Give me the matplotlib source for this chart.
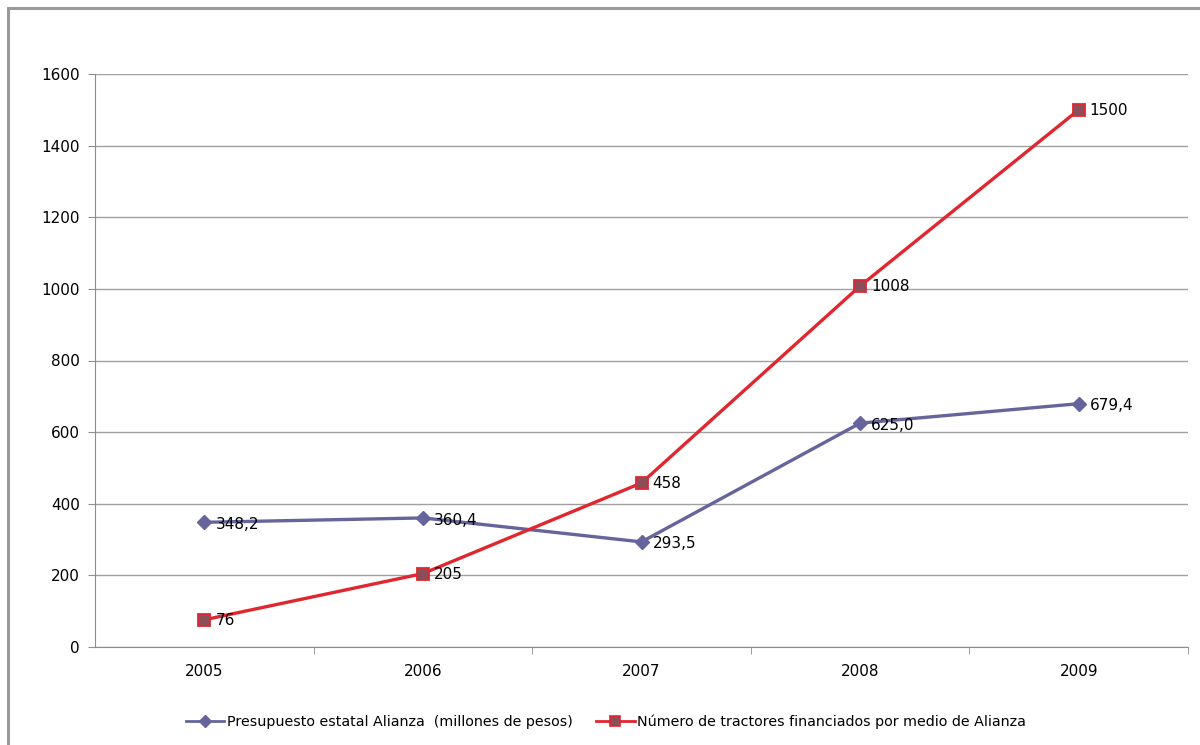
import matplotlib.pyplot as plt
from matplotlib.lines import Line2D
from matplotlib.patches import Rectangle

years = ['2005', '2006', '2007', '2008', '2009']
presupuesto = [348.2, 360.4, 293.5, 625.0, 679.4]
tractores = [76, 205, 458, 1008, 1500]
presupuesto_labels = ['348,2', '360,4', '293,5', '625,0', '679,4']
tractores_labels = ['76', '205', '458', '1008', '1500']
y_ticks = [0, 200, 400, 600, 800, 1000, 1200, 1400, 1600]

plt.rcParams['font.family'] = ['DejaVu Sans']

W, H = 1200, 745
fig = plt.figure(figsize=(W / 100, H / 100), dpi=100)
ax = fig.add_axes([95 / W, 1 - 647 / H, (1188 - 95) / W, (647 - 74) / H])

# outer chart frame, open on the right and bottom
fig.patches.append(Rectangle((8 / W, -0.1), 1.2, 1 - 8 / H + 0.1,
                             transform=fig.transFigure, fill=False,
                             edgecolor='#9a9a9a', linewidth=2.2))

x = range(len(years))
blue = '#65659c'
red = '#e0272f'
sq_fill = '#8c4e5a'

ax.plot(x, presupuesto, color=blue, lw=2.4, marker='D', ms=7.5,
        mfc=blue, mec=blue, zorder=3)
ax.plot(x, tractores, color=red, lw=2.4, marker='s', ms=8.5,
        mfc=sq_fill, mec=red, mew=1.3, zorder=3)

for xi, v, t in zip(x, presupuesto, presupuesto_labels):
    ax.annotate(t, (xi, v), xytext=(8, -1.5), textcoords='offset points',
                va='center', ha='left', fontsize=11, zorder=4)
for xi, v, t in zip(x, tractores, tractores_labels):
    ax.annotate(t, (xi, v), xytext=(8, -0.5), textcoords='offset points',
                va='center', ha='left', fontsize=11, zorder=4)

ax.set_xlim(-0.5, len(years) - 0.5)
ax.set_ylim(0, 1600)
ax.set_yticks(y_ticks)
ax.set_yticklabels([str(v) for v in y_ticks], fontsize=11)
ax.yaxis.grid(True, color='#a0a0a0', lw=1)
ax.set_axisbelow(True)

ax.set_xticks(list(x))
ax.set_xticklabels(years, fontsize=11)
ax.tick_params(axis='x', length=0, pad=12)
ax.set_xticks([i + 0.5 for i in x], minor=True)
ax.tick_params(axis='x', which='minor', length=5, color='#8c8c8c')
ax.tick_params(axis='y', length=5, color='#8c8c8c', pad=6)

for s in ['top', 'right']:
    ax.spines[s].set_visible(False)
for s in ['left', 'bottom']:
    ax.spines[s].set_color('#8c8c8c')

handles = [
    Line2D([], [], color=blue, lw=2, marker='D', ms=6, mfc=blue, mec=blue),
    Line2D([], [], color=red, lw=2, marker='s', ms=7, mfc=sq_fill, mec=red, mew=1.2),
]
names = ['Presupuesto estatal Alianza  (millones de pesos)',
         'Número de tractores financiados por medio de Alianza']
ax.legend(handles, names, loc='center', bbox_to_anchor=(0.505, (H - 722) / H),
          bbox_transform=fig.transFigure, ncol=2, frameon=False, fontsize=10.3,
          handlelength=2.7, columnspacing=1.6, handletextpad=0.2)

fig.savefig('out.png', dpi=100)
